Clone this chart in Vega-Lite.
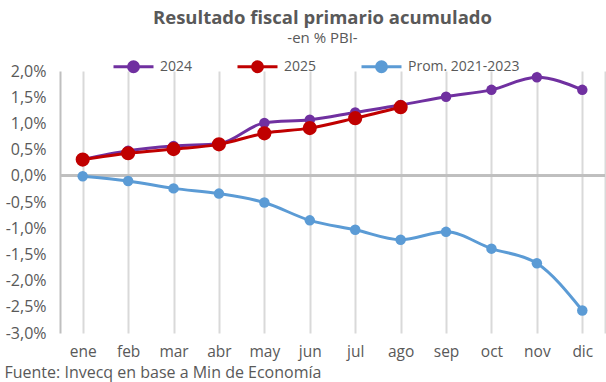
{
  "$schema": "https://vega.github.io/schema/vega-lite/v6.json",
  "width": 545,
  "height": 262,
  "autosize": {"type": "none"},
  "padding": {"left": 60, "top": 71, "right": 1, "bottom": 49},
  "background": "white",
  "title": {
    "text": "Resultado fiscal primario acumulado",
    "subtitle": "-en % PBI-",
    "anchor": "middle",
    "dx": -10,
    "offset": -1,
    "font": "Open Sans",
    "fontSize": 18.5,
    "fontWeight": "bold",
    "color": "#595959",
    "subtitleFont": "Open Sans",
    "subtitleFontSize": 15,
    "subtitleColor": "#595959",
    "subtitlePadding": 4
  },
  "config": {
    "view": {"stroke": null},
    "font": "Open Sans",
    "axis": {"labelFont": "Open Sans", "labelColor": "#595959", "labelFontSize": 16}
  },
  "resolve": {"axis": {"y": "independent"}},
  "data": {
    "values": [
      {"mes": "ene", "serie": "2024", "valor": 0.0031},
      {"mes": "feb", "serie": "2024", "valor": 0.0048},
      {"mes": "mar", "serie": "2024", "valor": 0.0057},
      {"mes": "abr", "serie": "2024", "valor": 0.0061},
      {"mes": "may", "serie": "2024", "valor": 0.0101},
      {"mes": "jun", "serie": "2024", "valor": 0.0107},
      {"mes": "jul", "serie": "2024", "valor": 0.0121},
      {"mes": "ago", "serie": "2024", "valor": 0.0135},
      {"mes": "sep", "serie": "2024", "valor": 0.0151},
      {"mes": "oct", "serie": "2024", "valor": 0.0164},
      {"mes": "nov", "serie": "2024", "valor": 0.0188},
      {"mes": "dic", "serie": "2024", "valor": 0.0164},
      {"mes": "ene", "serie": "2025", "valor": 0.0031},
      {"mes": "feb", "serie": "2025", "valor": 0.0043},
      {"mes": "mar", "serie": "2025", "valor": 0.0051},
      {"mes": "abr", "serie": "2025", "valor": 0.0060},
      {"mes": "may", "serie": "2025", "valor": 0.0081},
      {"mes": "jun", "serie": "2025", "valor": 0.0091},
      {"mes": "jul", "serie": "2025", "valor": 0.0110},
      {"mes": "ago", "serie": "2025", "valor": 0.0131},
      {"mes": "ene", "serie": "Prom. 2021-2023", "valor": -0.0001},
      {"mes": "feb", "serie": "Prom. 2021-2023", "valor": -0.0010},
      {"mes": "mar", "serie": "Prom. 2021-2023", "valor": -0.0024},
      {"mes": "abr", "serie": "Prom. 2021-2023", "valor": -0.0034},
      {"mes": "may", "serie": "Prom. 2021-2023", "valor": -0.0051},
      {"mes": "jun", "serie": "Prom. 2021-2023", "valor": -0.0085},
      {"mes": "jul", "serie": "Prom. 2021-2023", "valor": -0.0103},
      {"mes": "ago", "serie": "Prom. 2021-2023", "valor": -0.0122},
      {"mes": "sep", "serie": "Prom. 2021-2023", "valor": -0.0107},
      {"mes": "oct", "serie": "Prom. 2021-2023", "valor": -0.0139},
      {"mes": "nov", "serie": "Prom. 2021-2023", "valor": -0.0167},
      {"mes": "dic", "serie": "Prom. 2021-2023", "valor": -0.0257}
    ]
  },
  "encoding": {
    "x": {
      "field": "mes",
      "type": "nominal",
      "sort": ["ene","feb","mar","abr","may","jun","jul","ago","sep","oct","nov","dic"],
      "scale": {"paddingInner": 0, "paddingOuter": 0},
      "axis": {
        "labelAngle": 0,
        "labelFontSize": 15.5,
        "domain": false,
        "ticks": false,
        "grid": true,
        "bandPosition": 0,
        "gridColor": "#d9d9d9",
        "gridWidth": 2,
        "labelPadding": 11,
        "title": "Fuente: Invecq en base a Min de Economía",
        "titleFont": "Open Sans",
        "titleFontSize": 16,
        "titleFontWeight": "normal",
        "titleColor": "#595959",
        "titleAnchor": "start",
        "titleAlign": "left",
        "titleBaseline": "middle",
        "titleX": -56,
        "titleY": 39
      }
    },
    "y": {
      "field": "valor",
      "type": "quantitative",
      "scale": {"domain": [-0.03, 0.02], "nice": false},
      "axis": {
        "values": [-0.03,-0.025,-0.02,-0.015,-0.01,-0.005,0,0.005,0.01,0.015,0.02],
        "labelExpr": "replace(replace(format(datum.value, '.1%'), '.', ','), '\u2212', '-')",
        "grid": false,
        "ticks": false,
        "domain": true,
        "domainColor": "#bfbfbf",
        "domainWidth": 2,
        "labelPadding": 14,
        "title": null
      }
    }
  },
  "layer": [
    {
      "mark": {"type": "rule", "color": "#bfbfbf", "strokeWidth": 2},
      "encoding": {"y": {"datum": 0, "axis": null}, "x": null}
    },
    {
      "mark": {"type": "rule", "color": "#d9d9d9", "strokeWidth": 2, "opacity": 0},
      "encoding": {
        "y": {"datum": 0, "axis": {"orient": "right", "domain": true, "domainColor": "#d9d9d9", "domainWidth": 2, "labels": false, "ticks": false, "grid": false, "title": null}},
        "x": null
      }
    },
    {
      "mark": {"type": "line", "strokeWidth": 3, "interpolate": "monotone"},
      "encoding": {
        "color": {
          "field": "serie",
          "type": "nominal",
          "scale": {"domain": ["2024", "2025", "Prom. 2021-2023"], "range": ["#7030a0", "#c00000", "#5b9bd5"]},
          "legend": {
            "orient": "none",
            "legendX": 52,
            "legendY": -26,
            "direction": "horizontal",
            "title": null,
            "symbolType": "M-1,0L1,0M0.25,0A0.25,0.25,0,1,1,-0.25,0A0.25,0.25,0,1,1,0.25,0Z",
            "symbolSize": 1600,
            "symbolStrokeWidth": 3,
            "labelFont": "Open Sans",
            "labelFontSize": 14,
            "labelColor": "#595959",
            "labelOffset": 5,
            "columnPadding": 38,
            "encode": {
              "symbols": {"update": {"fill": {"scale": "color", "field": "value"}, "stroke": {"scale": "color", "field": "value"}, "opacity": {"value": 1}}}
            }
          }
        },
        "order": {"field": "serie"}
      }
    },
    {
      "mark": {"type": "point", "filled": true, "opacity": 1},
      "encoding": {
        "y": {"field": "valor", "type": "quantitative", "axis": null},
        "color": {"field": "serie", "type": "nominal", "legend": null},
        "size": {
          "condition": {"test": "datum.serie === '2025'", "value": 200},
          "value": 110
        }
      }
    }
  ]
}
